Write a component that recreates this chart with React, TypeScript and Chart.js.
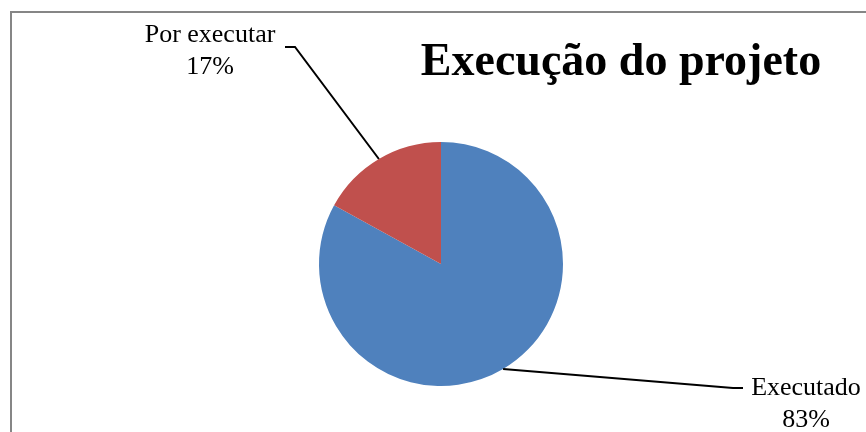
import React, { useEffect, useRef } from "react";
import { Chart, registerables } from "chart.js";

Chart.register(...registerables);

const categories = ["Executado", "Por executar"];
const values = [83, 17];
const colors = ["#4F81BD", "#C0504D"];
const titleText = "Execução do projeto";

// label layout (text centre x, first baseline y, elbow, line end)
const labelLayout = [
  { cx: 806, by: 395, elbow: [733, 388], end: [743, 388] },
  { cx: 210, by: 42, elbow: [295, 47], end: [285, 47] },
];

const FONT = '"Liberation Serif", "DejaVu Serif", serif';

const decorPlugin = {
  id: "decor",
  beforeDraw(chart: any) {
    const ctx = chart.ctx;
    ctx.save();
    ctx.strokeStyle = "#868686";
    ctx.lineWidth = 2;
    ctx.strokeRect(11, 12, 1000, 1000);
    ctx.restore();
  },
  afterDraw(chart: any) {
    const ctx = chart.ctx;
    const meta = chart.getDatasetMeta(0);
    const total = values.reduce((a, b) => a + b, 0);
    ctx.save();
    // title
    ctx.fillStyle = "#000";
    ctx.font = `bold 46px ${FONT}`;
    ctx.textAlign = "center";
    ctx.textBaseline = "alphabetic";
    ctx.fillText(titleText, 621, 75);

    meta.data.forEach((arc: any, i: number) => {
      const p = arc.getProps(["x", "y", "startAngle", "endAngle", "outerRadius"], true);
      const mid = (p.startAngle + p.endAngle) / 2;
      const sx = p.x + Math.cos(mid) * p.outerRadius;
      const sy = p.y + Math.sin(mid) * p.outerRadius;
      const L = labelLayout[i];
      ctx.beginPath();
      ctx.strokeStyle = "#000";
      ctx.lineWidth = 2;
      ctx.moveTo(sx, sy);
      ctx.lineTo(L.elbow[0], L.elbow[1]);
      ctx.lineTo(L.end[0], L.end[1]);
      ctx.stroke();

      ctx.fillStyle = "#000";
      ctx.font = `26px ${FONT}`;
      ctx.textAlign = "center";
      ctx.fillText(categories[i], L.cx, L.by);
      ctx.fillText(Math.round((values[i] / total) * 100) + "%", L.cx, L.by + 32);
    });
    ctx.restore();
  },
};

export default function App() {
  const ref = useRef<HTMLCanvasElement>(null);
  useEffect(() => {
    if (!ref.current) return;
    const chart = new Chart(ref.current, {
      type: "pie",
      data: {
        labels: categories,
        datasets: [
          {
            data: values,
            backgroundColor: colors,
            borderWidth: 0,
          },
        ],
      },
      options: {
        animation: false,
        responsive: true,
        maintainAspectRatio: false,
        layout: { padding: { top: 142, bottom: 46, left: 16, right: 0 } },
        plugins: {
          legend: { display: false },
          title: { display: false },
          tooltip: { enabled: false },
        },
      },
      plugins: [decorPlugin],
    });
    return () => chart.destroy();
  }, []);
  return (
    <div style={{ position: "fixed", left: 0, top: 0, width: 866, height: 432, background: "#fff" }}>
      <canvas ref={ref} />
    </div>
  );
}
